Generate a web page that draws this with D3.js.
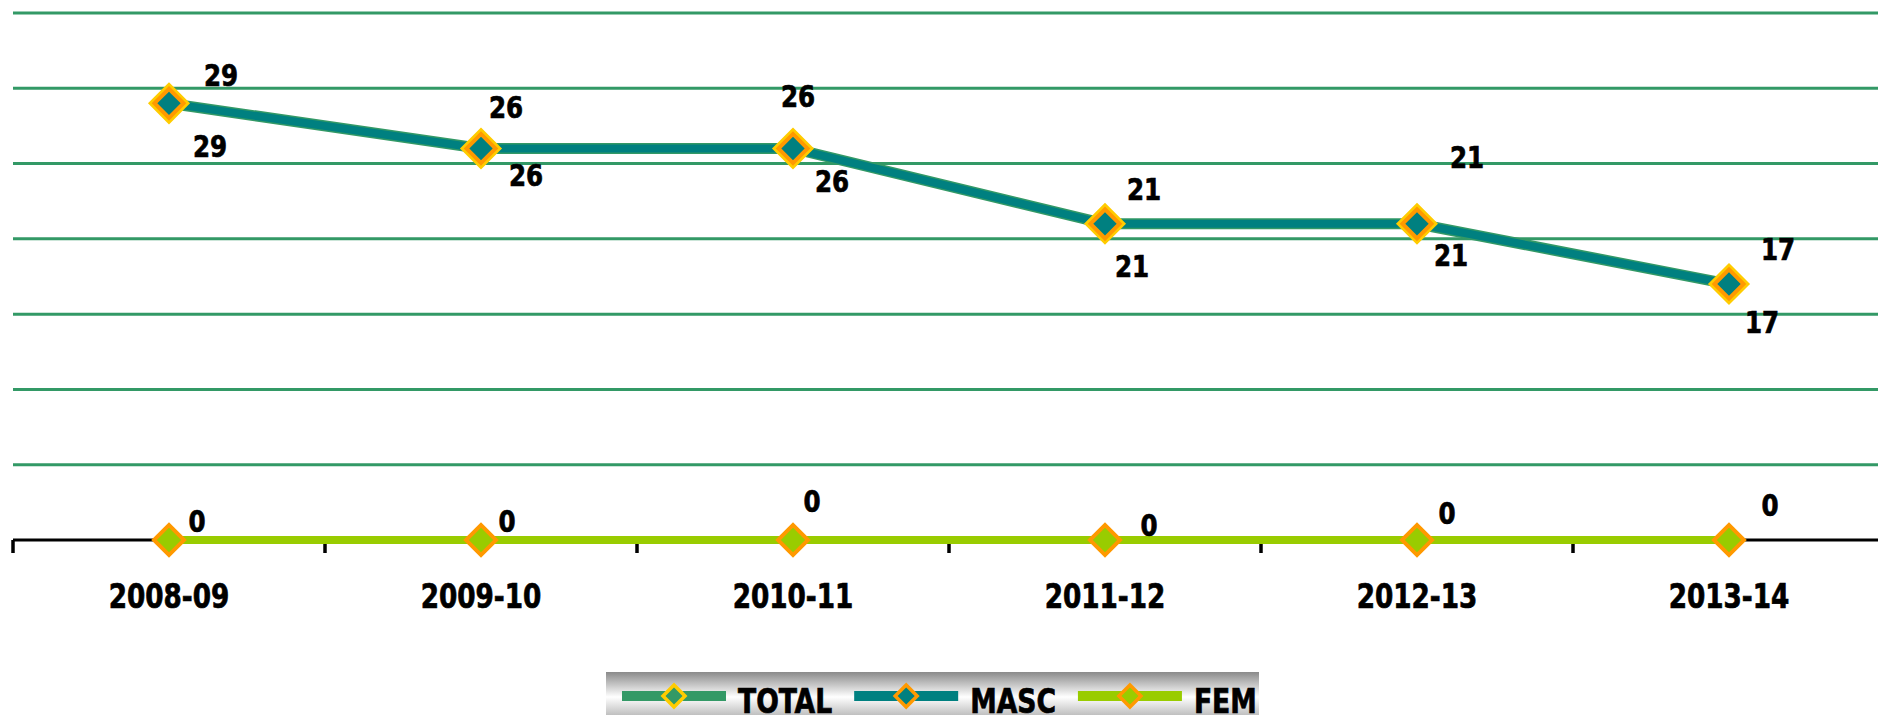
<!DOCTYPE html>
<html>
<head>
<meta charset="utf-8">
<script src="https://cdn.jsdelivr.net/npm/d3@7"></script>
<style>
  body { margin: 0; background: #fff; overflow: hidden; }
  text { font-family: "DejaVu Sans Condensed", "DejaVu Sans", sans-serif; font-weight: bold; fill: #000; stroke: #000; stroke-width: 0.7px; }
</style>
</head>
<body>
<script>
// data
var years = ["2008-09", "2009-10", "2010-11", "2011-12", "2012-13", "2013-14"];
var total = [29, 26, 26, 21, 21, 17];
var masc = [29, 26, 26, 21, 21, 17];
var fem = [0, 0, 0, 0, 0, 0];
var yTicks = [5, 10, 15, 20, 25, 30, 35];

// label nudges (dx, dy from the point), placed by hand in the original
var totalNudge = [[52,-17],[25,-31],[5,-42],[39,-24],[50,-56],[49,-24]];
var mascNudge = [[41,54],[45,37],[39,43],[27,53],[34,42],[33,49]];
var femNudge = [[28,-8],[26,-8],[19,-28],[44,-4],[30,-16],[41,-24]];

var w = 1878, h = 715;
var left = 13, axisY = 540, topY = 13;
// the original face is a very narrow bold one, squeeze DejaVu to get near it
var squeeze = 0.86;

var svg = d3.select("body").append("svg")
  .attr("width", w)
  .attr("height", h);

var xScale = d3.scaleBand()
  .domain(years)
  .range([left, left + 6 * 312]);
var yScale = d3.scaleLinear()
  .domain([0, 35])
  .range([axisY, topY]);

function cx(i) { return xScale(years[i]) + xScale.bandwidth() / 2; }

// gridlines
svg.append("g").selectAll("line")
  .data(yTicks)
  .enter().append("line")
  .attr("x1", left).attr("x2", w)
  .attr("y1", function(d) { return yScale(d); })
  .attr("y2", function(d) { return yScale(d); })
  .attr("stroke", "#339966")
  .attr("stroke-width", 3);

// x axis: labels through d3.axisBottom, boundary ticks by hand
var xAxis = d3.axisBottom(xScale).tickSize(0).tickPadding(44);
var gx = svg.append("g")
  .attr("transform", "translate(0," + axisY + ")")
  .call(xAxis);
gx.select(".domain").remove();
gx.selectAll("text")
  .attr("font-size", 34)
  .attr("fill", "#000")
  .attr("transform", "scale(" + squeeze + ",1)")
  .style("font-family", "'DejaVu Sans Condensed', 'DejaVu Sans', sans-serif")
  .style("font-weight", "bold");

svg.append("line")
  .attr("x1", left).attr("x2", w)
  .attr("y1", axisY).attr("y2", axisY)
  .attr("stroke", "#000").attr("stroke-width", 3);
svg.append("g").selectAll("line")
  .data(years)
  .enter().append("line")
  .attr("x1", function(d) { return xScale(d); })
  .attr("x2", function(d) { return xScale(d); })
  .attr("y1", axisY).attr("y2", axisY + 13)
  .attr("stroke", "#000").attr("stroke-width", 3.5);

// lines
function lineFor(vals) {
  return d3.line()
    .x(function(d, i) { return cx(i); })
    .y(function(d) { return yScale(d); })(vals);
}
svg.append("path").attr("d", lineFor(total))
  .attr("fill", "none").attr("stroke", "#339966").attr("stroke-width", 11);
svg.append("path").attr("d", lineFor(masc))
  .attr("fill", "none").attr("stroke", "#008080").attr("stroke-width", 8);
svg.append("path").attr("d", lineFor(fem))
  .attr("fill", "none").attr("stroke", "#99cc00").attr("stroke-width", 8);

// markers
function diamond(halfDiag) {
  var side = halfDiag * Math.SQRT2;
  return d3.symbol().type(d3.symbolSquare).size(side * side)();
}
function markers(vals, half, fill, stroke, sw) {
  svg.append("g").selectAll("path")
    .data(vals)
    .enter().append("path")
    .attr("d", diamond(half))
    .attr("transform", function(d, i) { return "translate(" + cx(i) + "," + yScale(d) + ") rotate(45)"; })
    .attr("fill", fill)
    .attr("stroke", stroke)
    .attr("stroke-width", sw);
}
markers(total, 17.5, "#339966", "#ffcc00", 5);
markers(masc, 14.5, "#008080", "#ff9900", 4);
markers(fem, 15, "#99cc00", "#ff9900", 4);

// data labels
function labels(vals, nudge) {
  svg.append("g").selectAll("text")
    .data(vals)
    .enter().append("text")
    .attr("transform", function(d, i) {
      return "translate(" + (cx(i) + nudge[i][0]) + "," + (yScale(d) + nudge[i][1]) + ") scale(0.88,1)";
    })
    .attr("text-anchor", "middle")
    .attr("font-size", 31)
    .text(function(d) { return d; });
}
labels(total, totalNudge);
labels(masc, mascNudge);
labels(fem, femNudge);

// legend
var defs = svg.append("defs");
var grad = defs.append("linearGradient")
  .attr("id", "legendGrad")
  .attr("x1", 0).attr("y1", 0).attr("x2", 0).attr("y2", 1);
grad.append("stop").attr("offset", "0%").attr("stop-color", "#8a8a8a");
grad.append("stop").attr("offset", "48%").attr("stop-color", "#ffffff");
grad.append("stop").attr("offset", "100%").attr("stop-color", "#a0a0a0");

var legend = svg.append("g");
legend.append("rect")
  .attr("x", 606).attr("y", 672)
  .attr("width", 653).attr("height", 52)
  .attr("fill", "url(#legendGrad)");

var legendItems = [
  { name: "TOTAL", line: "#339966", fill: "#339966", stroke: "#ffcc00" },
  { name: "MASC", line: "#008080", fill: "#008080", stroke: "#ff9900" },
  { name: "FEM", line: "#99cc00", fill: "#99cc00", stroke: "#ff9900" }
];
var lx = 622, ly = 696, legSqueeze = 0.87;
legendItems.forEach(function(item) {
  legend.append("line")
    .attr("x1", lx).attr("x2", lx + 104)
    .attr("y1", ly).attr("y2", ly)
    .attr("stroke", item.line).attr("stroke-width", 10);
  legend.append("path")
    .attr("d", diamond(11))
    .attr("transform", "translate(" + (lx + 52) + "," + ly + ") rotate(45)")
    .attr("fill", item.fill)
    .attr("stroke", item.stroke)
    .attr("stroke-width", 3.5);
  var t = legend.append("text")
    .attr("transform", "translate(" + (lx + 116) + ",713) scale(" + legSqueeze + ",1)")
    .attr("font-size", 34)
    .text(item.name);
  lx = lx + 116 + t.node().getComputedTextLength() * legSqueeze + 22;
});
</script>
</body>
</html>
